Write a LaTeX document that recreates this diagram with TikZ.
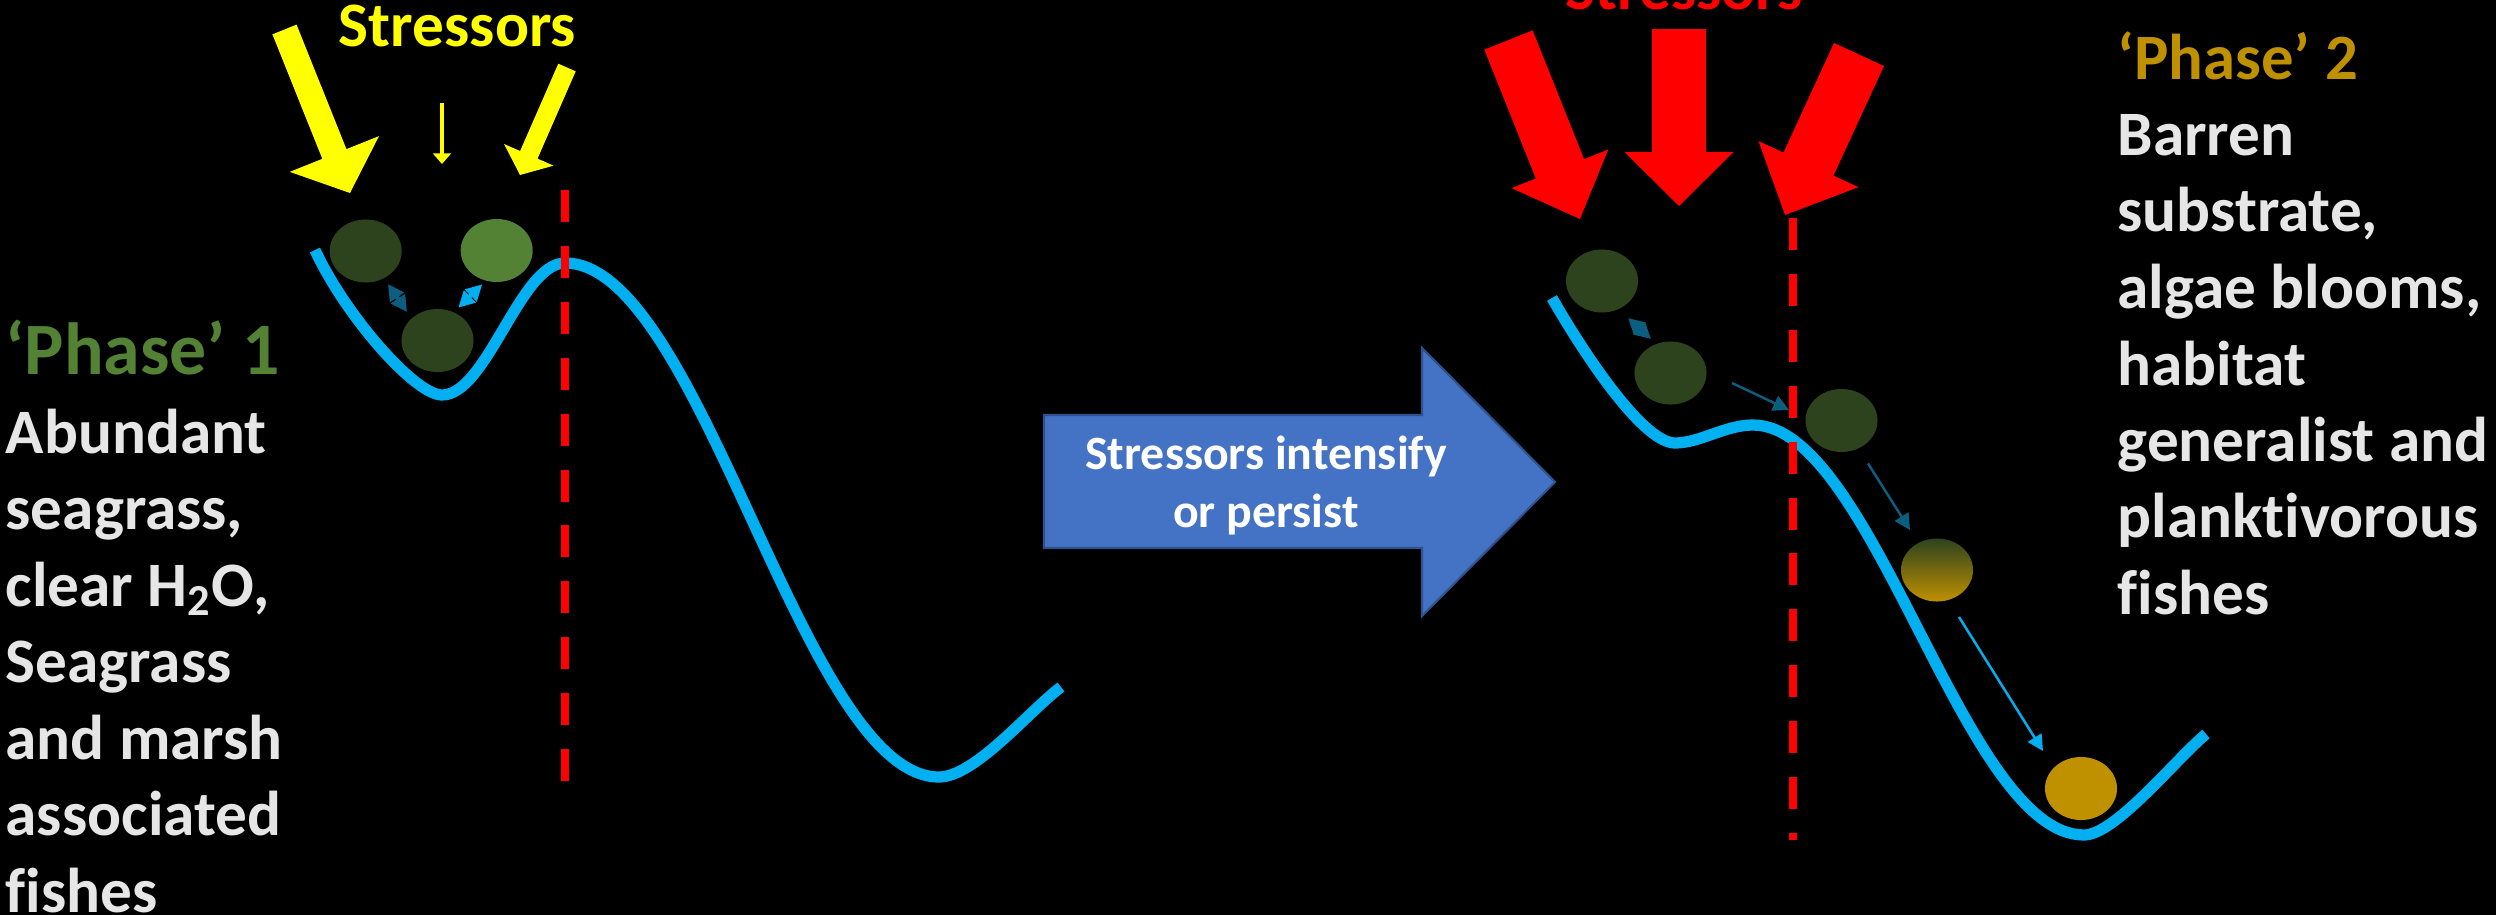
\documentclass[tikz,border=0pt]{standalone}
\usepackage{fontspec}
\setmainfont{Carlito}[Ligatures=NoCommon]
\usetikzlibrary{calc,arrows.meta,shapes.geometric}
\definecolor{curveblue}{HTML}{00B0F0}
\definecolor{dkgreen}{HTML}{2D431E}
\definecolor{ltgreen}{HTML}{548235}
\definecolor{goldc}{HTML}{BF9000}
\definecolor{arrowblue}{HTML}{4472C4}
\definecolor{arrowedge}{HTML}{2F528F}
\definecolor{darkteal}{HTML}{0B5E80}
\definecolor{txtgrey}{HTML}{E7E6E6}
\definecolor{stressyellow}{HTML}{FFFF00}
\definecolor{stressred}{HTML}{FF0000}
\newcommand{\blockarr}[6]{%
  \path ($(#2)!#5!(#1)$) coordinate (hb);
  \fill[#6] ($(#1)!#3!90:(#2)$) -- ($(hb)!#3!90:(#2)$) -- ($(hb)!#4!90:(#2)$) -- (#2)
    -- ($(hb)!#4!-90:(#2)$) -- ($(hb)!#3!-90:(#2)$) -- ($(#1)!#3!-90:(#2)$) -- cycle;}
\begin{document}
\begin{tikzpicture}[x=0.01cm,y=-0.01cm,
  txtbody/.style={font=\bfseries\fontsize{18}{21.6}\selectfont, text=txtgrey, anchor=base west, inner sep=0pt},
  phasetxt/.style={font=\bfseries\fontsize{21}{25}\selectfont, anchor=base west, inner sep=0pt},
  stresstxt/.style={font=\bfseries\fontsize{18}{21.6}\selectfont, anchor=base, inner sep=0pt},
  midtxt/.style={font=\bfseries\fontsize{13.6}{16.5}\selectfont, text=white, anchor=base, inner sep=0pt},
  ball/.style={ellipse, minimum width=0.72cm, minimum height=0.63cm, inner sep=0pt, draw=none},
  landscape/.style={draw=curveblue, line width=3.2pt},
  threshold/.style={draw=stressred, line width=2.3pt, dash pattern=on 9.1pt off 6.8pt},
  dblarr/.style={line width=1.2pt, {Triangle[width=4.6pt,length=4.6pt]}-{Triangle[width=4.6pt,length=4.6pt]}},
  movearr/.style={line width=0.7pt, -{Triangle[width=4.5pt,length=4.5pt]}}
]
\fill[black] (0,0) rectangle (2496,915);
\useasboundingbox (0,0) rectangle (2496,915);

% ---------- landscapes ----------
\draw[landscape] (315,250) .. controls (345,315) and (415,395) .. (442,395)
  .. controls (486.8,395) and (520.2,263) .. (565,263)
  .. controls (701.2,263) and (802.8,777) .. (939,777)
  .. controls (975,777) and (1030,710) .. (1061,687);

\draw[landscape] (1552,298) .. controls (1590,364) and (1645,443) .. (1675,443)
  .. controls (1700,443) and (1725,425) .. (1753,425)
  .. controls (1873.6,425) and (1963.4,835) .. (2084,835)
  .. controls (2115,835) and (2175,760) .. (2206,734);

% ---------- thresholds ----------
\coordinate (tLa) at (565,190); \coordinate (tLb) at (565,783);
\draw[threshold] (tLa) -- (tLb);
\coordinate (tRa) at (1793,218); \coordinate (tRb) at (1793,840);
\draw[threshold] (tRa) -- (tRb);

% ---------- stressor arrows ----------
\coordinate (yLt) at (284.5,29.5); \coordinate (yLh) at (350,193);
\blockarr{yLt}{yLh}{0.13cm}{0.48cm}{0.42cm}{stressyellow}
\coordinate (yRt) at (567,67.5); \coordinate (yRh) at (520,175);
\blockarr{yRt}{yRh}{0.095cm}{0.27cm}{0.22cm}{stressyellow}
\coordinate (yMt) at (442,103); \coordinate (yMh) at (442,164);
\draw[stressyellow, line width=1.2pt, -{Triangle[width=5pt,length=3pt]}] (yMt) -- (yMh);

\coordinate (rAt) at (1508.5,40); \coordinate (rAh) at (1580,219);
\blockarr{rAt}{rAh}{0.26cm}{0.52cm}{0.54cm}{stressred}
\coordinate (rBt) at (1679,29); \coordinate (rBh) at (1679,206);
\blockarr{rBt}{rBh}{0.27cm}{0.545cm}{0.54cm}{stressred}
\coordinate (rCt) at (1859,54.5); \coordinate (rCh) at (1785,215);
\blockarr{rCt}{rCh}{0.275cm}{0.55cm}{0.56cm}{stressred}

\node[stresstxt, text=stressyellow] (stressL) at (457.5,47) {Stressors};
\node[stresstxt, text=stressred] (stressR) at (1684,10) {Stressors};

% ---------- balls, phase 1 ----------
\node[ball, fill=dkgreen] (c1) at (365.7,251) {};
\node[ball, fill=ltgreen] (c2) at (496.7,250.5) {};
\node[ball, fill=dkgreen] (c3) at (437.5,340.5) {};
\draw[dblarr, darkteal] ($(c1)+(22.3,33)$) -- ($(c3)+(-30.5,-28.5)$);
\draw[dblarr, curveblue] ($(c2)+(-14.4,33.8)$) -- ($(c3)+(20.8,-32.8)$);

% ---------- balls, phase 2 ----------
\node[ball, fill=dkgreen] (b1) at (1602,281) {};
\node[ball, fill=dkgreen] (b2) at (1670.5,373) {};
\node[ball, fill=dkgreen] (b3) at (1841.5,420.5) {};
\node[ball, top color=dkgreen, bottom color=goldc] (b4) at (1937,570) {};
\node[ball, fill=goldc] (b5) at (2081,788.5) {};
\draw[dblarr, darkteal] ($(b1)+(26,37)$) -- ($(b2)+(-19.5,-34)$);
\draw[movearr, darkteal] ($(b2)+(61.5,10)$) -- ($(b3)+(-52.5,-10.5)$);
\draw[movearr, darkteal] ($(b3)+(26.5,43)$) -- ($(b4)+(-27,-40)$);
\draw[movearr, curveblue] ($(b4)+(22,47)$) -- ($(b5)+(-38,-37.5)$);

% ---------- transition arrow ----------
\filldraw[fill=arrowblue, draw=arrowedge, line width=0.6pt] (1044,415) -- (1422,415) -- (1422,348)
  -- (1555,482) -- (1422,616) -- (1422,548) -- (1044,548) -- cycle;
\node[midtxt] (m1) at (1266,469) {Stressors intensify};
\node[midtxt] (m2) at (1266,527) {or persist};

% ---------- left text ----------
\node[phasetxt, text=ltgreen] (phase1) at (5,374) {‘Phase’ 1};
\node[txtbody] (l1) at (5,453) {Abundant};
\node[txtbody] (l2) at (5,529) {seagrass,};
\node[txtbody] (l3) at (5,606) {clear H\textsubscript{2}O,};
\node[txtbody] (l4) at (5,682) {Seagrass};
\node[txtbody] (l5) at (5,759) {and marsh};
\node[txtbody] (l6) at (5,835) {associated};
\node[txtbody] (l7) at (5,912) {fishes};

% ---------- right text ----------
\node[phasetxt, text=goldc, font=\bfseries\fontsize{18.4}{22}\selectfont] (phase2) at (2117,79) {‘Phase’ 2};
\node[txtbody] (r1) at (2117,155) {Barren};
\node[txtbody] (r2) at (2117,231) {substrate,};
\node[txtbody] (r3) at (2117,308) {algae blooms,};
\node[txtbody] (r4) at (2117,385) {habitat};
\node[txtbody] (r5) at (2117,461) {generalist and};
\node[txtbody] (r6) at (2117,537) {planktivorous};
\node[txtbody] (r7) at (2117,614) {fishes};
\end{tikzpicture}
\end{document}
